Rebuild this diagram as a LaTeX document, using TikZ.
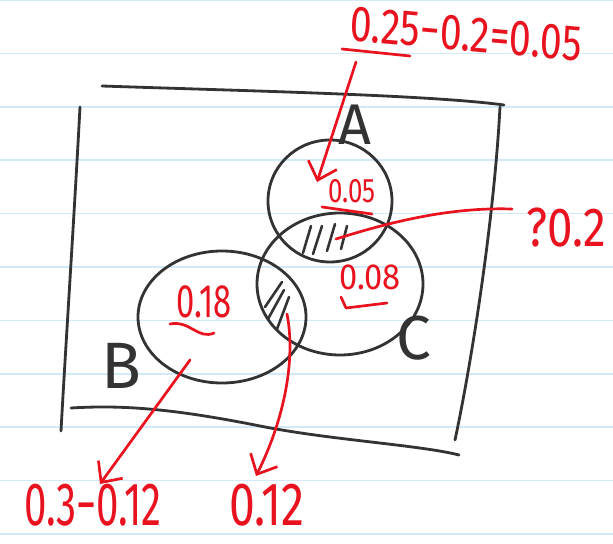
\documentclass[tikz,border=0pt]{standalone}
\usepackage{fontspec}
\setmainfont{Fira Sans}
\usepackage{xcolor}
\usepackage{tikz}
\usetikzlibrary{arrows.meta, positioning, calc}
\definecolor{InkRed}{HTML}{E8131F}
\definecolor{InkBlack}{HTML}{333333}
\definecolor{PaperRule}{HTML}{D2E9F8}
\newcommand{\handfs}[1]{\fontsize{#1}{#1}\selectfont}

\begin{document}
\begin{tikzpicture}[x=0.03cm, y=-0.03cm, line cap=round, line join=round]
  \tikzstyle{pen}=[draw=InkBlack, line width=2.4pt]
  \tikzstyle{redpen}=[draw=InkRed, line width=2.3pt]
  \tikzstyle{redarrow}=[redpen, -{Straight Barb[length=4.8mm, width=9mm]}]
  \tikzstyle{hatch}=[draw=InkBlack, line width=2.2pt]
  \tikzstyle{blacklabel}=[text=InkBlack, inner sep=0pt]
  \tikzstyle{redlabel}=[text=InkRed, inner sep=0pt]

  \useasboundingbox (0,0) rectangle (613,544);
  \fill[white] (0,0) rectangle (613,544);
  \foreach \k in {0,...,10}
    \draw[PaperRule, line width=1.3pt] (0,{53.4*\k}) -- (613,{53.4*\k});

  \draw[pen] (102,86) .. controls (250,91) and (430,95) .. (504,105);
  \draw[pen] (80,107) .. controls (74,220) and (66,340) .. (61,431);
  \draw[pen] (500,107) .. controls (494,220) and (472,360) .. (455,440);
  \draw[pen] (71,408) .. controls (120,405) and (170,408) .. (260,426)
    .. controls (330,440) and (420,445) .. (459,455);

  \draw[pen] (330,201) ellipse [x radius=62, y radius=61];
  \draw[pen] (340,284) ellipse [x radius=83, y radius=71];
  \draw[pen] (222,317) ellipse [x radius=84, y radius=66];

  \draw[hatch] (311,226) -- (303,253);
  \draw[hatch] (322,226) -- (313,254);
  \draw[hatch] (335,224) -- (327,251);
  \draw[hatch] (347,226) -- (341,249);
  \draw[hatch] (282,282) -- (265,307);
  \draw[hatch] (284,290) -- (268,319);
  \draw[hatch] (289,297) -- (277,329);

  \node[blacklabel, font=\handfs{49}] (labelA) at (355,125) {A};
  \node[blacklabel, font=\handfs{56}] (labelB) at (121,366) {B};
  \node[blacklabel, font=\handfs{53}] (labelC) at (414,338) {C};

  \node[redlabel, font=\handfs{43}, xscale=0.78, rotate=-4] (calcA) at (466,34) {0.25−0.2=0.05};
  \node[redlabel, font=\handfs{29}, xscale=0.76] (onlyA) at (352,191) {0.05};
  \node[redlabel, font=\handfs{47}, xscale=0.83] (calcAC) at (566,228) {?0.2};
  \node[redlabel, font=\handfs{31}, xscale=0.9] (onlyC) at (370,277) {0.08};
  \node[redlabel, font=\handfs{40}, xscale=0.7] (onlyB) at (204,302) {0.18};
  \node[redlabel, font=\handfs{52}, xscale=0.66] (calcB) at (93,505) {0.3−0.12};
  \node[redlabel, font=\handfs{52}, xscale=0.76] (calcBC) at (267,505) {0.12};

  \draw[redpen] (342,49) -- (410,56);
  \draw[redpen] (322,207) -- (372,214);
  \draw[redpen] (341,297) -- (346,308) -- (387,303);
  \draw[redpen] (170,324) .. controls (190,320) and (198,340) .. (214,333);

  \coordinate (calcfoot) at (356,62);
  \coordinate (tipA) at (317,182);
  \coordinate (qfoot) at (512,209);
  \coordinate (lensAC) at (336,239);
  \coordinate (regionB) at (190,360);
  \coordinate (tipB) at (100,484);
  \coordinate (lensBC) at (287,314);
  \coordinate (tipBC) at (256,476);

  \draw[redarrow] (calcfoot) -- (tipA);
  \draw[redpen] (qfoot) .. controls (450,207) and (390,222) .. (lensAC);
  \draw[redarrow] (regionB) -- (tipB);
  \draw[redarrow] (lensBC) .. controls (296,360) and (284,420) .. (tipBC);
\end{tikzpicture}
\end{document}
